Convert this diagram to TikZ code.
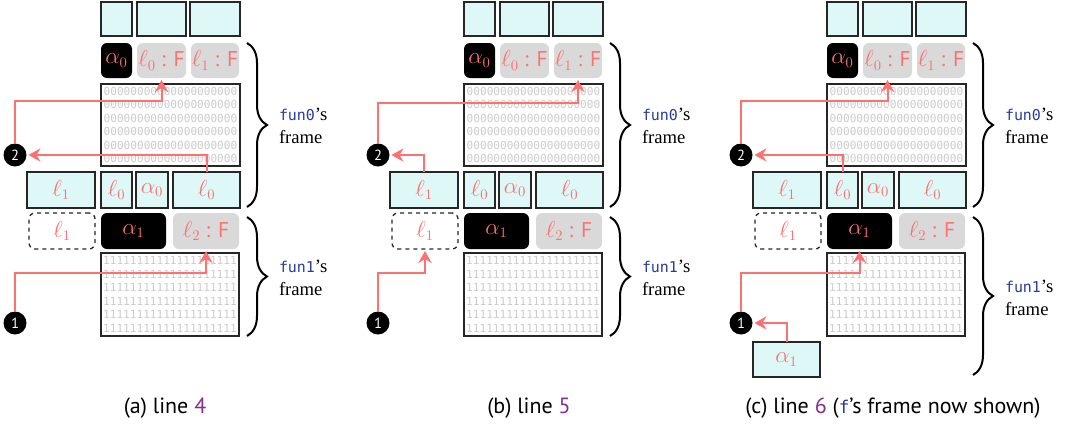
\documentclass[tikz,border=0pt]{standalone}
\usepackage{fontspec}
\setmainfont{Liberation Serif}
\setsansfont{PT Sans}
\setmonofont{DejaVu Sans Mono}[Scale=0.8]
\usetikzlibrary{arrows.meta,positioning,calc,decorations.pathreplacing}
\definecolor{salmon}{RGB}{255,112,112}
\definecolor{cellcyan}{RGB}{222,248,248}
\definecolor{taggray}{RGB}{217,217,217}
\definecolor{codeblue}{RGB}{40,60,160}
\definecolor{linepurple}{RGB}{135,45,140}
\def\px{0.75pt}
\def\zrow{00000000000000000000}
\def\orow{11111111111111111111}
\newcommand{\boxfont}{\fontsize{16}{18}\selectfont}

\begin{document}
\begin{tikzpicture}[x=0.75pt,y=-0.75pt,every node/.style={inner sep=0pt,outer sep=0pt},>=stealth,
  cell/.style={draw=black!85,fill=cellcyan,line width=1pt,text=salmon,font=\boxfont},
  own/.style={fill=black,rounded corners=4.5pt,text=salmon,font=\boxfont},
  tag/.style={fill=taggray,rounded corners=4.5pt,text=salmon,font=\boxfont},
  gone/.style={draw=black!85,dashed,line width=1pt,rounded corners=4.5pt,text=salmon,font=\boxfont},
  bytes/.style={draw=black!85,fill=white,line width=1pt,text=black!20,align=center,font=\fontsize{10.4}{10.1}\selectfont\ttfamily},
  stepdot/.style={circle,fill=black,text=white,minimum size=23*\px,font=\sffamily\fontsize{11}{11}\selectfont},
  link/.style={draw=salmon,line width=1.5pt,-{Stealth[length=9pt,width=10pt,inset=3pt]},shorten >=1.5pt},
  fbrace/.style={decorate,decoration={brace,amplitude=15pt},line width=1.5pt},
  flabel/.style={anchor=west,align=left,font=\rmfamily\fontsize{14}{17}\selectfont},
  caption/.style={font=\sffamily\fontsize{16.5}{18}\selectfont}]
\useasboundingbox (0,0) rectangle (1068,425);

% the part shared by all three panels
\foreach \p/\dx in {a/0,b/363,c/726}{
\begin{scope}[shift={(\dx,0)}]
\node[cell,minimum width=31*\px,minimum height=34*\px] (\p-t1) at (116.5,19) {};
\node[cell,minimum width=49*\px,minimum height=34*\px] (\p-t2) at (161.5,19) {};
\node[cell,minimum width=50*\px,minimum height=34*\px] (\p-t3) at (215,19) {};
\node[own,minimum width=31*\px,minimum height=35*\px] (\p-a0) at (116.5,60.5) {$\alpha_0$};
\node[tag,minimum width=49*\px,minimum height=35*\px] (\p-l0F) at (161.5,60.5) {$\ell_0$ \textsf{: F}};
\node[tag,minimum width=48*\px,minimum height=35*\px] (\p-l1F) at (215,60.5) {$\ell_1$ \textsf{: F}};
\node[bytes,minimum width=139*\px,minimum height=82*\px] (\p-zeros) at (170.5,125) {\zrow\\\zrow\\\zrow\\\zrow\\\zrow\\\zrow};
\node[cell,minimum width=68*\px,minimum height=36*\px] (\p-l1) at (61,190) {$\ell_1$};
\node[cell,minimum width=31*\px,minimum height=36*\px] (\p-l0) at (116.5,190) {$\ell_0$};
\node[cell,minimum width=32*\px,minimum height=36*\px] (\p-a0c) at (152,190) {$\alpha_0$};
\node[cell,minimum width=67*\px,minimum height=36*\px] (\p-l0r) at (206.5,190) {$\ell_0$};
\node[gone,minimum width=66*\px,minimum height=36*\px] (\p-l1d) at (62,231) {$\ell_1$};
\node[own,minimum width=65*\px,minimum height=36*\px] (\p-a1) at (133.5,231) {$\alpha_1$};
\node[tag,minimum width=66*\px,minimum height=36*\px] (\p-l2F) at (206,231) {$\ell_2$ \textsf{: F}};
\node[bytes,minimum width=138*\px,minimum height=83*\px] (\p-ones) at (170,294.5) {\orow\\\orow\\\orow\\\orow\\\orow\\\orow};
\node[stepdot] (\p-two) at (15,155) {2};
\node[stepdot] (\p-one) at (15,323) {1};
\draw[fbrace] (247,43) -- (247,207);
\node[flabel] (\p-fun0) at (279,126) {{\color{codeblue}\texttt{fun0}}'s\\frame};
\end{scope}
}

% fun1's frame is taller once f's frame is shown
\draw[fbrace] (247,217) -- (247,336);
\node[flabel] (a-fun1) at (279,278) {{\color{codeblue}\texttt{fun1}}'s\\frame};
\draw[fbrace] (610,217) -- (610,336);
\node[flabel] (b-fun1) at (642,278) {{\color{codeblue}\texttt{fun1}}'s\\frame};
\draw[fbrace] (973,217) -- (973,375);
\node[flabel] (c-fun1) at (1005,298) {{\color{codeblue}\texttt{fun1}}'s\\frame};
\node[cell,minimum width=67*\px,minimum height=35*\px] (c-a1c) at (786.5,359.5) {$\alpha_1$};

% (a)
\draw[link] (a-l0r) |- (a-two);
\draw[link] (a-two) |- ($(a-l0F.south)+(0,23)$) -- (a-l0F);
\draw[link] (a-one) |- ($(a-l2F.south)+(0,24)$) -- (a-l2F);
% (b)
\draw[link] (b-l1) |- (b-two);
\draw[link] (b-two) |- ($(b-l1F.south)+(0,25)$) -- (b-l1F);
\draw[link] (b-one) |- ($(b-l1d.south)+(0,24)$) -- (b-l1d);
% (c)
\draw[link] (c-l0) |- (c-two);
\draw[link] (c-two) |- ($(c-l0F.south)+(0,23)$) -- (c-l0F);
\draw[link] (c-a1c) |- (c-one);
\draw[link] (c-one) |- ($(c-a1.south)+(0,24)$) -- (c-a1);

\node[caption] (cap-a) at (165,408) {(a) line {\color{linepurple}4}};
\node[caption] (cap-b) at (529,408) {(b) line {\color{linepurple}5}};
\node[caption] (cap-c) at (893,408) {(c) line {\color{linepurple}6} ({\color{codeblue}\texttt{f}}'s frame now shown)};
\end{tikzpicture}
\end{document}
